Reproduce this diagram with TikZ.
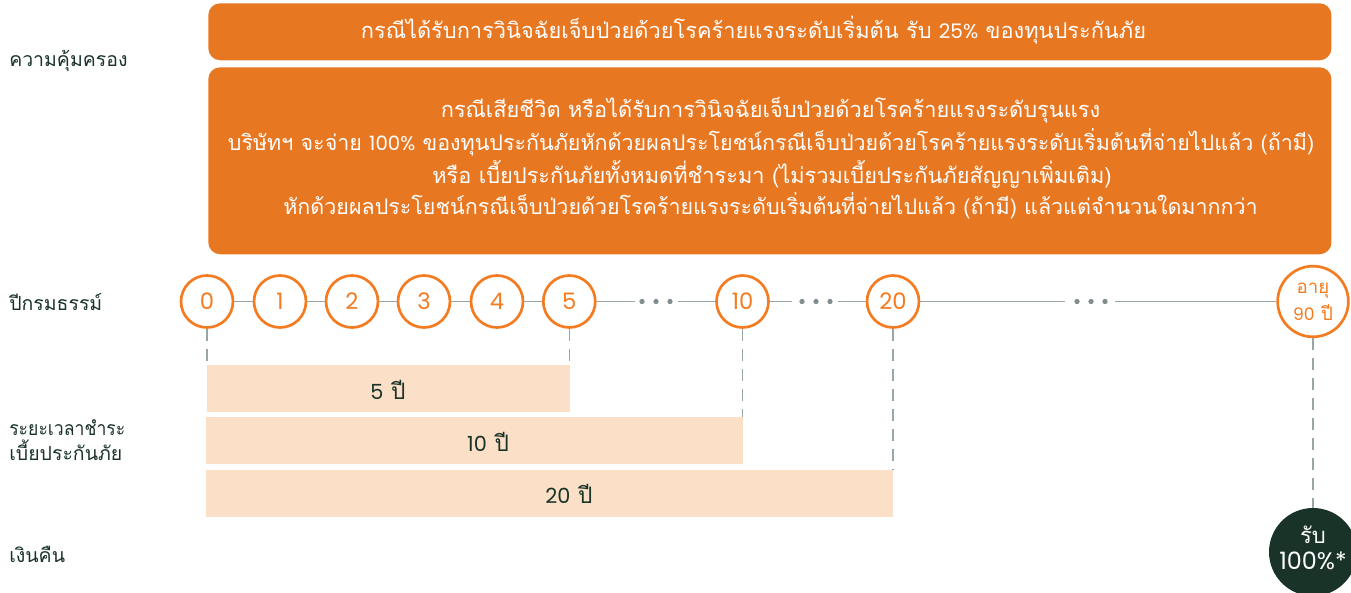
\documentclass[tikz,border=0pt]{standalone}
\usepackage{fontspec}
\setmainfont[Script=Thai]{Loma}
\newfontfamily\lat{Poppins}[Scale=0.92]
\definecolor{boxor}{HTML}{E87722}
\definecolor{ringor}{HTML}{F47B20}
\definecolor{peach}{HTML}{FCDFC7}
\definecolor{deep}{HTML}{1A3329}
\definecolor{rule}{HTML}{98A6A8}
\newcommand{\bodyfs}{\fontsize{16.35}{24}\selectfont}
\newcommand{\bodyfsb}{\fontsize{16.1}{24}\selectfont}
\tikzset{
 x=0.75pt,y=-0.75pt,
 orbox/.style={fill=boxor,rounded corners=9pt,anchor=north west,inner sep=0pt,text=white,align=center},
 txtw/.style={text=white,align=center,inner sep=0pt,font=\bodyfs},
 yr/.style={circle,draw=ringor,line width=2pt,fill=white,text=ringor,minimum size=39pt,inner sep=0pt,font=\fontsize{18.5}{20}\selectfont\lat},
 ppbar/.style={fill=peach,anchor=north west,inner sep=0pt},
 pptxt/.style={text=deep,inner sep=0pt,font=\fontsize{17}{20}\selectfont},
 lbl/.style={anchor=west,inner sep=0pt,text=deep,align=left,font=\fontsize{14.6}{18.7}\selectfont},
 tl/.style={draw=rule,line width=1pt},
 dsh/.style={draw=rule,line width=1pt,dash pattern=on 9pt off 6pt},
 dotn/.style={circle,fill=rule!85!black,minimum size=4pt,inner sep=0pt},
}
\begin{document}
\begin{tikzpicture}
\useasboundingbox (0,0) rectangle (1351,592);
\clip (0,0) rectangle (1351,592);
% coverage boxes
\node[orbox,minimum width=842.4pt,minimum height=42.75pt] (b1) at (208,3) {};
\node[orbox,minimum width=842.4pt,minimum height=140.25pt] (b2) at (208,67) {};
\node[txtw] (t1) at (753.5,30) {กรณีได้รับการวินิจฉัยเจ็บป่วยด้วยโรคร้ายแรงระดับเริ่มต้น รับ {\lat 25\%} ของทุนประกันภัย};
\node[txtw] (t2) at (770.5,110) {กรณีเสียชีวิต หรือได้รับการวินิจฉัยเจ็บป่วยด้วยโรคร้ายแรงระดับรุนแรง};
\node[txtw,font=\bodyfsb] (t3) at (771,142) {บริษัทฯ จะจ่าย {\lat 100\%} ของทุนประกันภัยหักด้วยผลประโยชน์กรณีเจ็บป่วยด้วยโรคร้ายแรงระดับเริ่มต้นที่จ่ายไปแล้ว (ถ้ามี)};
\node[txtw] (t4) at (772,174) {หรือ เบี้ยประกันภัยทั้งหมดที่ชำระมา (ไม่รวมเบี้ยประกันภัยสัญญาเพิ่มเติม)};
\node[txtw,font=\bodyfsb] (t5) at (770.5,206) {หักด้วยผลประโยชน์กรณีเจ็บป่วยด้วยโรคร้ายแรงระดับเริ่มต้นที่จ่ายไปแล้ว (ถ้ามี) แล้วแต่จำนวนใดมากกว่า};
% row labels
\node[lbl] (l1) at (9,61) {ความคุ้มครอง};
\node[lbl] (l2) at (9,302) {ปีกรมธรรม์};
\node[lbl] (l3) at (9,440) {\scalebox{0.905}[1]{ระยะเวลาชำระ}\\เบี้ยประกันภัย};
\node[lbl] (l4) at (9,554) {เงินคืน};
% year circles
\node[yr] (y0) at (207,301.5) {0};
\node[yr] (y1) at (280,301.5) {1};
\node[yr] (y2) at (352,301.5) {2};
\node[yr] (y3) at (424,301.5) {3};
\node[yr] (y4) at (497,301.5) {4};
\node[yr] (y5) at (569.3,301.5) {5};
\node[yr] (y10) at (742.5,301.5) {10};
\node[yr] (y20) at (893,301.5) {20};
\node[yr,minimum size=53pt,align=center,font=\fontsize{14}{20}\selectfont] (y90) at (1313,301.5) {อายุ\\{\lat 90} ปี};
% dots
\foreach \n/\x in {a1/642,a2/656,a3/670,b1d/802,b2d/816,b3d/830,c1/1077,c2/1091,c3/1105}
  \node[dotn] (\n) at (\x,301.5) {};
\coordinate (e1) at (635,301.5); \coordinate (s1) at (678,301.5);
\coordinate (e2) at (792,301.5); \coordinate (s2) at (838,301.5);
\coordinate (e3) at (1065,301.5); \coordinate (s3) at (1115,301.5);
\draw[tl] (y0)--(y1) (y1)--(y2) (y2)--(y3) (y3)--(y4) (y4)--(y5)
  (y5)--(e1) (s1)--(y10) (y10)--(e2) (s2)--(y20) (y20)--(e3) (s3)--(y90);
% peach bars
\node[ppbar,minimum width=272.25pt,minimum height=35.25pt] (p5) at (207,365) {};
\node[ppbar,minimum width=402.75pt,minimum height=35.25pt] (p10) at (206,417) {};
\node[ppbar,minimum width=515.25pt,minimum height=35.25pt] (p20) at (206,470) {};
\node[pptxt] (tp5) at (388,390) {{\lat 5} ปี};
\node[pptxt] (tp10) at (488,442) {{\lat 10} ปี};
\node[pptxt] (tp20) at (569,494) {{\lat 20} ปี};
% refund
\node[circle,fill=deep,minimum size=66pt,inner sep=0pt] (rf) at (1313,552) {};
\node[text=white,align=center,inner sep=0pt,font=\fontsize{16.5}{20}\selectfont] (rft) at (1313,548) {รับ\\{\fontsize{19.5}{20}\selectfont\lat 100\%*}};
% dashed drops
\draw[dsh] (y0.south)--(y0.south |- p5.north);
\draw[dsh] (y5.south)--(y5.south |- p5.north);
\draw[dsh] (y10.south)--(y10.south |- p10.north);
\draw[dsh] (y20.south)--(y20.south |- p20.north);
\draw[dsh] (y90.south)--(rf.north);
\end{tikzpicture}
\end{document}
